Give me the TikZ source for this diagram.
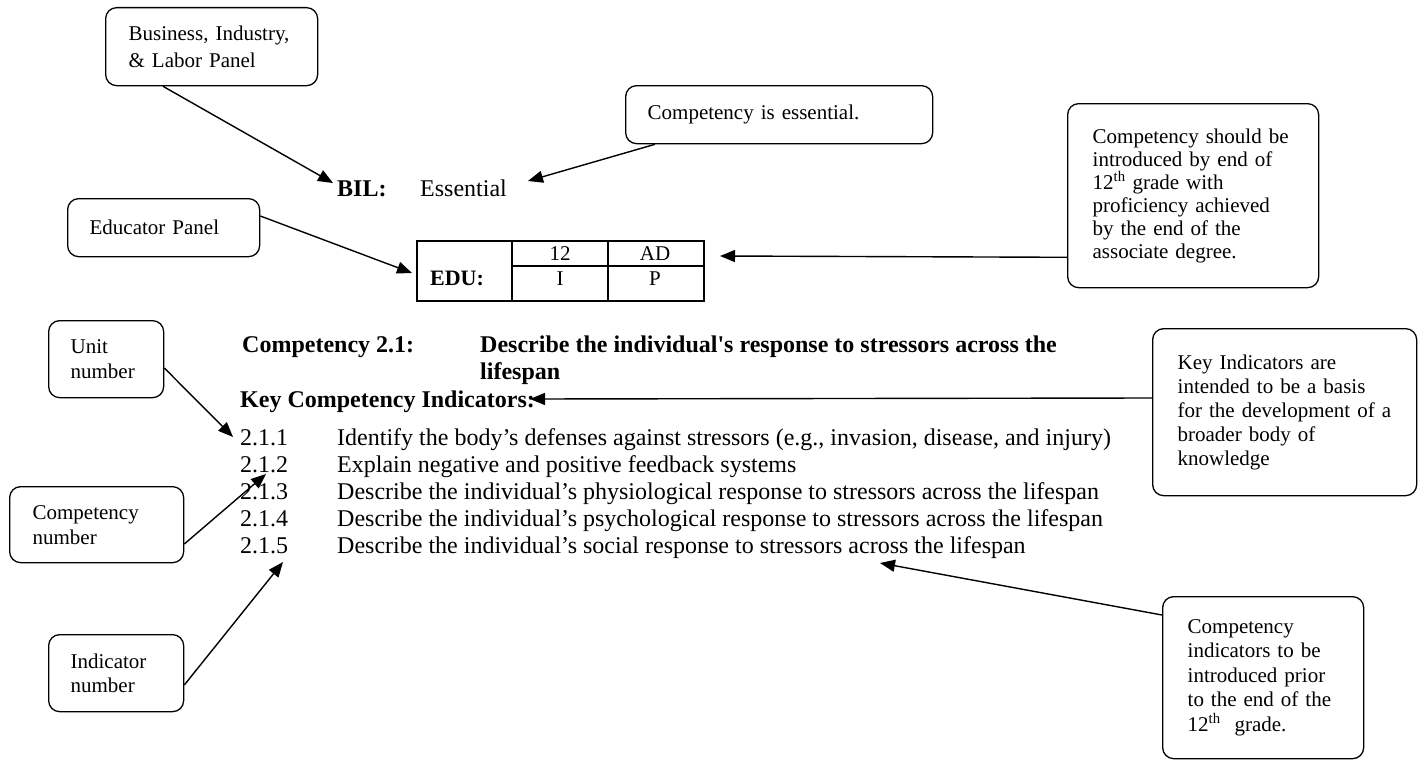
\documentclass[tikz,border=0pt]{standalone}
\usepackage{fontspec}
\setmainfont{Liberation Serif}[Ligatures=TeXOff]
\usetikzlibrary{arrows.meta,calc}
\begin{document}
\begin{tikzpicture}[x=1pt,y=-1pt,
  box/.style={draw,line width=1.3pt,rounded corners=11pt,anchor=north west,align=left,inner ysep=0pt},
  bfont/.style={font=\fontsize{21}{24}\selectfont},
  arr/.style={line width=1.4pt,-{Triangle[length=15pt,width=12pt]}},
  main/.style={anchor=base west,inner sep=0pt,font=\fontsize{24}{27}\selectfont},
  mainb/.style={anchor=base west,inner sep=0pt,font=\fontsize{24}{27}\selectfont\bfseries},
  cell/.style={inner sep=0pt,font=\fontsize{21}{24}\selectfont},
]
\useasboundingbox (0,0) rectangle (1423,760);

% boxes
\node[box,font=\fontsize{21}{27}\selectfont,minimum width=212pt,minimum height=78pt,text width=166pt,inner xsep=23pt] (bilbox) at (105,7) {Business, Industry,\\ \& Labor Panel};
\node[box,bfont,minimum width=307pt,minimum height=58pt,text width=263pt,inner xsep=22pt] (ess) at (625,85) {Competency is essential.};
\node[box,bfont,minimum width=192pt,minimum height=58pt,text width=148pt,inner xsep=22pt] (edubox) at (67,198) {Educator Panel};
\node[box,font=\fontsize{21}{23}\selectfont,minimum width=251pt,minimum height=184pt,text width=201pt,inner xsep=25pt] (rtop) at (1067,103) {Competency should be\\ introduced by end of\\ 12\textsuperscript{th} grade with\\ proficiency achieved\\ by the end of the\\ associate degree.};
\node[box,bfont,minimum width=264pt,minimum height=167pt,text width=214pt,inner xsep=25pt] (key) at (1152,328) {Key Indicators are\\ intended to be a basis\\ for the development of a\\ broader body of\\ knowledge};
\node[box,font=\fontsize{21}{24.5}\selectfont,minimum width=201pt,minimum height=162pt,text width=151pt,inner xsep=25pt] (br) at (1162,596) {Competency\\ indicators to be\\ introduced prior\\ to the end of the\\ 12\textsuperscript{th}\ \ grade.};
\node[box,font=\fontsize{21}{25}\selectfont,minimum width=115pt,minimum height=77pt,text width=71pt,inner xsep=22pt] (unit) at (48,320) {Unit\\ number};
\node[box,font=\fontsize{21}{25}\selectfont,minimum width=174pt,minimum height=76pt,text width=128pt,inner xsep=23pt] (cnum) at (9,486) {Competency\\ number};
\node[box,bfont,minimum width=135pt,minimum height=77pt,text width=91pt,inner xsep=22pt] (ind) at (48,634) {Indicator\\ number};

% BIL line
\node[mainb] (bil) at (337,196) {BIL:};
\node[main] (essential) at (420,196) {Essential};

% EDU table
\node[draw,line width=2pt,minimum width=287pt,minimum height=60pt,anchor=north west,inner sep=0pt] (edu) at (416,240) {};
\draw[line width=2pt] (512,240) -- (512,300);
\draw[line width=2pt] (608,240) -- (608,300);
\draw[line width=1.6pt] (512,266) -- (703,266);
\node[cell,font=\fontsize{22}{24}\selectfont\bfseries] (edul) at (457,278) {EDU:};
\node[cell] (c12) at (560,254) {12};
\node[cell] (cad) at (655,254) {AD};
\node[cell] (ci) at (560,279) {I};
\node[cell] (cp) at (655,279) {P};

% competency text
\node[mainb] (c21) at (242,352) {Competency 2.1:};
\node[mainb] (c21d) at (480,352) {Describe the individual's response to stressors across the};
\node[mainb] (life) at (480,379) {lifespan};
\node[mainb] (kci) at (240,407) {Key Competency Indicators:};

\node[main] (n1) at (240,445) {2.1.1};
\node[main] (t1) at (337,445) {Identify the body’s defenses against stressors (e.g., invasion, disease, and injury)};
\node[main] (n2) at (240,472) {2.1.2};
\node[main] (t2) at (337,472) {Explain negative and positive feedback systems};
\node[main] (n3) at (240,499) {2.1.3};
\node[main] (t3) at (337,499) {Describe the individual’s physiological response to stressors across the lifespan};
\node[main] (n4) at (240,526) {2.1.4};
\node[main] (t4) at (337,526) {Describe the individual’s psychological response to stressors across the lifespan};
\node[main] (n5) at (240,553) {2.1.5};
\node[main] (t5) at (337,553) {Describe the individual’s social response to stressors across the lifespan};

% arrow tips
\coordinate (tBIL) at (333,183);
\coordinate (tEss) at (528,181);
\coordinate (tEdu) at (412,273);
\coordinate (tRtop) at (720,256);
\coordinate (tUnit) at (233,437);
\coordinate (tCnum) at (266,474);
\coordinate (tInd) at (283,562);
\coordinate (tKey) at (530,399);
\coordinate (tBr) at (880,563);

\draw[arr] ([xshift=58pt]bilbox.south west) -- (tBIL);
\draw[arr] ([xshift=30pt]ess.south west) -- (tEss);
\draw[arr] ([yshift=-18pt]edubox.north east) -- (tEdu);
\draw[arr] ([yshift=31pt]rtop.south west) -- (tRtop);
\draw[arr] ([yshift=-48pt]unit.north east) -- (tUnit);
\draw[arr] ([yshift=-58pt]cnum.north east) -- (tCnum);
\draw[arr] ([yshift=-51pt]ind.north east) -- (tInd);
\draw[arr] ([yshift=-70pt]key.north west) -- (tKey);
\draw[arr] ([yshift=-19pt]br.north west) -- (tBr);
\end{tikzpicture}
\end{document}
